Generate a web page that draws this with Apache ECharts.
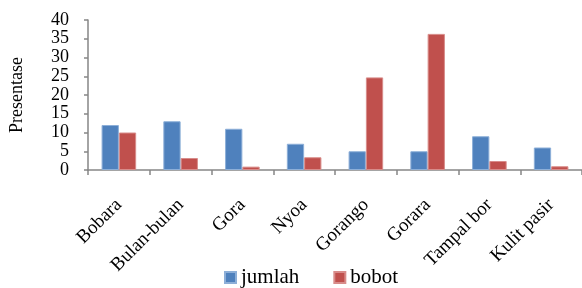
<!DOCTYPE html>
<html>
<head>
<meta charset="utf-8">
<script src="https://cdn.jsdelivr.net/npm/echarts@6/dist/echarts.min.js"></script>
<style>
html, body { margin: 0; padding: 0; background: #fff; }
#chart { width: 582px; height: 288px; }
</style>
</head>
<body>
<div id="chart"></div>
<script>
let categories = ['Bobara', 'Bulan-bulan', 'Gora', 'Nyoa', 'Gorango', 'Gorara', 'Tampal bor', 'Kulit pasir'];
let jumlahList = [12, 13, 11, 7, 5, 5, 9, 6];
let bobotList = [10, 3.2, 0.9, 3.4, 24.7, 36.3, 2.4, 1];

let myChart = echarts.init(document.getElementById('chart'));
let font = 'Liberation Serif, Times New Roman, serif';
myChart.setOption({
    animation: false,
    textStyle: { fontFamily: font },
    legend: {
        data: ['jumlah', 'bobot'],
        bottom: -5,
        left: 219,
        icon: 'rect',
        itemWidth: 11,
        itemHeight: 11,
        itemGap: 34,
        selectedMode: false,
        textStyle: { fontFamily: font, fontSize: 21, color: '#000' }
    },
    grid: {
        left: 88,
        top: 20,
        bottom: 118,
        right: -5
    },
    xAxis: [{
        type: 'category',
        data: categories,
        axisLine: { lineStyle: { color: '#868686', width: 1.5 } },
        axisTick: { show: true, length: 5, alignWithLabel: false, lineStyle: { color: '#868686', width: 1.5 } },
        axisLabel: {
            interval: 0,
            rotate: 45,
            margin: 32,
            fontFamily: font,
            fontSize: 19,
            color: '#000'
        }
    }],
    yAxis: [{
        type: 'value',
        min: 0,
        max: 40,
        interval: 5,
        name: 'Presentase',
        nameLocation: 'middle',
        nameGap: 62,
        nameTextStyle: { fontFamily: font, fontSize: 18, color: '#000' },
        axisLine: { show: true, lineStyle: { color: '#868686', width: 1.5 } },
        axisTick: { show: true, length: 4, lineStyle: { color: '#868686', width: 1.5 } },
        splitLine: { show: false },
        axisLabel: {
            fontFamily: font, fontSize: 18, lineHeight: 14, color: '#000', margin: 19,
            showMinLabel: true, showMaxLabel: true, hideOverlap: false
        }
    }],
    series: [
        {
            name: 'jumlah',
            type: 'bar',
            data: jumlahList,
            barGap: '0%',
            barCategoryGap: '44%',
            itemStyle: { color: '#4F81BD', borderColor: '#8DAFD8', borderWidth: 1 }
        },
        {
            name: 'bobot',
            type: 'bar',
            data: bobotList,
            itemStyle: { color: '#C0504D', borderColor: '#D88C8A', borderWidth: 1 }
        }
    ]
});
</script>
</body>
</html>
